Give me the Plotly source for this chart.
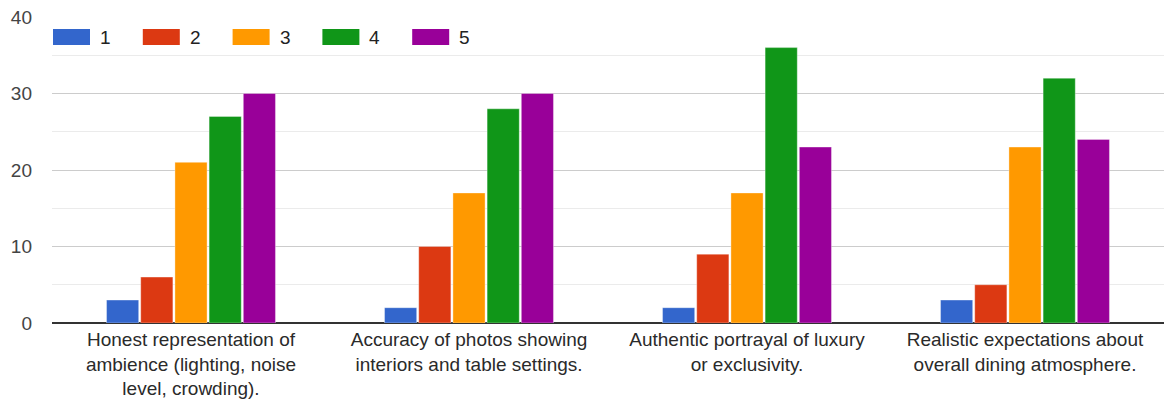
import plotly.graph_objects as go

categories = [
    "Honest representation of<br>ambience (lighting, noise<br>level, crowding).",
    "Accuracy of photos showing<br>interiors and table settings.",
    "Authentic portrayal of luxury<br>or exclusivity.",
    "Realistic expectations about<br>overall dining atmosphere.",
]
series_names = ["1", "2", "3", "4", "5"]
rating_1 = [3, 2, 2, 3]
rating_2 = [6, 10, 9, 5]
rating_3 = [21, 17, 17, 23]
rating_4 = [27, 28, 36, 32]
rating_5 = [30, 30, 23, 24]
y_ticks = [0, 10, 20, 30, 40]

colors = ["#3366cc", "#dc3912", "#ff9900", "#109618", "#990099"]
series_values = [rating_1, rating_2, rating_3, rating_4, rating_5]

W, H = 1165, 406
ML, MR, MT, MB = 52, 1, 17, 83
FONT = "Arial, Liberation Sans, sans-serif"

fig = go.Figure()
for name, vals, col in zip(series_names, series_values, colors):
    fig.add_trace(go.Bar(
        x=categories, y=vals, name=name,
        marker=dict(color=col, line=dict(color="rgba(255,255,255,0.35)", width=1)),
        showlegend=False,
    ))

# Custom legend row: wide swatches followed by labels
pw = W - ML - MR
ph = H - MT - MB
def px_to_paper_x(px):
    return (px - ML) / pw
def px_to_paper_y(py):
    return (H - MB - py) / ph

shapes = []
annotations = []
for i, (name, col) in enumerate(zip(series_names, colors)):
    x0 = 53 + i * 89.8
    shapes.append(dict(
        type="rect", xref="paper", yref="paper",
        x0=px_to_paper_x(x0), x1=px_to_paper_x(x0 + 37),
        y0=px_to_paper_y(45), y1=px_to_paper_y(29),
        fillcolor=col, line=dict(color=col, width=0), layer="above",
    ))
    annotations.append(dict(
        xref="paper", yref="paper",
        x=px_to_paper_x(x0 + 45), y=px_to_paper_y(37),
        xanchor="left", yanchor="middle", showarrow=False,
        text=name, font=dict(family=FONT, size=19, color="#222222"),
    ))

fig.update_layout(
    width=W, height=H,
    margin=dict(l=ML, r=MR, t=MT, b=MB, pad=0),
    paper_bgcolor="white", plot_bgcolor="white",
    barmode="group", bargap=0.385, bargroupgap=0.06,
    font=dict(family=FONT, size=17, color="#222222"),
    shapes=shapes, annotations=annotations,
    xaxis=dict(
        showgrid=False, showline=False, zeroline=False, ticks="",
        tickfont=dict(family=FONT, size=19, color="#2a2a2a"),
        ticklabelstandoff=3,
        fixedrange=True,
    ),
    yaxis=dict(
        range=[0, 40], tickvals=y_ticks, showline=False, ticks="",
        gridcolor="#cccccc", gridwidth=1,
        zeroline=True, zerolinecolor="#333333", zerolinewidth=2,
        tickfont=dict(family=FONT, size=19, color="#444444"),
        ticklabelstandoff=19,
        minor=dict(dtick=5, tick0=0, showgrid=True, gridcolor="#ebebeb", gridwidth=1),
        fixedrange=True,
    ),
)

fig.write_html("out.html")
